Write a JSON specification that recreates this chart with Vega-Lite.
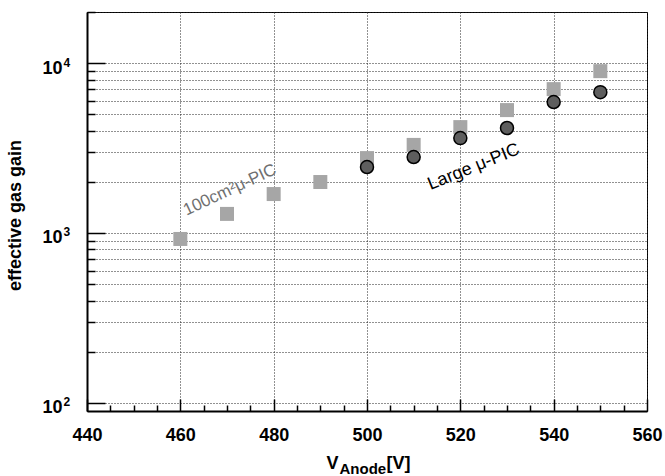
{
  "$schema": "https://vega.github.io/schema/vega-lite/v6.json",
  "width": 560,
  "height": 399,
  "autosize": "none",
  "padding": {"left": 87, "top": 12, "right": 18, "bottom": 65},
  "background": "white",
  "config": {
    "view": {"stroke": "black", "strokeWidth": 1},
    "axis": {
      "labelFont": "Liberation Sans",
      "titleFont": "Liberation Sans",
      "labelColor": "black",
      "titleColor": "black",
      "tickColor": "black",
      "domain": false,
      "grid": false,
      "labelOverlap": false,
      "labelFlush": false
    },
    "text": {"font": "Liberation Sans"}
  },
  "datasets": {
    "gain": [
      {"V": 460, "gain": 922, "detector": "100cm² μ-PIC"},
      {"V": 470, "gain": 1295, "detector": "100cm² μ-PIC"},
      {"V": 480, "gain": 1695, "detector": "100cm² μ-PIC"},
      {"V": 490, "gain": 1995, "detector": "100cm² μ-PIC"},
      {"V": 500, "gain": 2760, "detector": "100cm² μ-PIC"},
      {"V": 510, "gain": 3300, "detector": "100cm² μ-PIC"},
      {"V": 520, "gain": 4200, "detector": "100cm² μ-PIC"},
      {"V": 530, "gain": 5290, "detector": "100cm² μ-PIC"},
      {"V": 540, "gain": 7030, "detector": "100cm² μ-PIC"},
      {"V": 550, "gain": 8970, "detector": "100cm² μ-PIC"},
      {"V": 500, "gain": 2445, "detector": "Large μ-PIC"},
      {"V": 510, "gain": 2800, "detector": "Large μ-PIC"},
      {"V": 520, "gain": 3620, "detector": "Large μ-PIC"},
      {"V": 530, "gain": 4150, "detector": "Large μ-PIC"},
      {"V": 540, "gain": 5900, "detector": "Large μ-PIC"},
      {"V": 550, "gain": 6745, "detector": "Large μ-PIC"}
    ]
  },
  "layer": [
    {
      "data": {"name": "gain"},
      "transform": [{"filter": "datum.detector == '100cm² μ-PIC'"}],
      "mark": {"type": "point", "shape": "square", "filled": true, "size": 196, "color": "#a6a6a6", "opacity": 1},
      "encoding": {
        "x": {
          "field": "V", "type": "quantitative",
          "scale": {"domain": [440, 560], "nice": false, "zero": false},
          "axis": {
            "orient": "bottom",
            "values": [440, 460, 480, 500, 520, 540, 560],
            "ticks": false,
            "domain": true, "domainColor": "black", "domainWidth": 2,
            "grid": true, "gridColor": "#222222", "gridDash": [1, 2], "gridWidth": 1,
            "labelFontSize": 18, "labelFontWeight": "bold", "labelPadding": 15,
            "title": "V", "titleFontSize": 18, "titleFontWeight": "bold",
            "titleX": 239, "titleY": 57, "titleAlign": "left", "titleBaseline": "alphabetic"
          }
        },
        "y": {
          "field": "gain", "type": "quantitative",
          "scale": {"type": "log", "domain": [89.5, 20000], "nice": false},
          "axis": {
            "orient": "left",
            "values": [100, 200, 300, 400, 500, 600, 700, 800, 900, 1000, 2000, 3000, 4000, 5000, 6000, 7000, 8000, 9000, 10000, 20000],
            "labelExpr": "datum.value == 100 || datum.value == 1000 || datum.value == 10000 ? '10' : ''",
            "ticks": false,
            "domain": true, "domainColor": "black", "domainWidth": 2,
            "grid": true, "gridColor": "#222222", "gridDash": [1, 2], "gridWidth": 1,
            "labelFontSize": 18, "labelFontWeight": "bold", "labelPadding": 25,
            "labelBaseline": "middle", "labelOffset": 5,
            "title": "effective gas gain", "titleFontSize": 18, "titleFontWeight": "bold",
            "titleAngle": 270, "titleX": -72, "titleY": 203, "titleAlign": "center", "titleBaseline": "middle"
          }
        }
      }
    },
    {
      "data": {"name": "gain"},
      "transform": [{"filter": "datum.detector == 'Large μ-PIC'"}],
      "mark": {"type": "point", "shape": "circle", "filled": true, "size": 169, "fill": "#5e5e5e", "stroke": "black", "strokeWidth": 1.5, "opacity": 1},
      "encoding": {
        "x": {
          "field": "V", "type": "quantitative",
          "axis": {
            "orient": "bottom",
            "values": [440, 460, 480, 500, 520, 540, 560],
            "labels": false, "ticks": true, "tickSize": -12, "tickWidth": 1.5,
            "title": "Anode", "titleFontSize": 15, "titleFontWeight": "bold",
            "titleX": 252, "titleY": 62, "titleAlign": "left", "titleBaseline": "alphabetic"
          }
        },
        "y": {
          "field": "gain", "type": "quantitative",
          "axis": {
            "orient": "left",
            "values": [100, 1000, 10000],
            "labels": false, "ticks": true, "tickSize": -18, "tickWidth": 1.5,
            "title": null
          }
        }
      }
    },
    {
      "data": {"values": [{}]},
      "mark": {"type": "text", "fontSize": 17, "color": "#707070", "angle": 335, "align": "center", "baseline": "middle"},
      "encoding": {
        "x": {
          "datum": 470.6, "type": "quantitative",
          "axis": {
            "orient": "bottom",
            "values": [445, 450, 455, 465, 470, 475, 485, 490, 495, 505, 510, 515, 525, 530, 535, 545, 550, 555],
            "labels": false, "ticks": true, "tickSize": -6, "tickWidth": 1.5,
            "title": "[V]", "titleFontSize": 18, "titleFontWeight": "bold",
            "titleX": 299, "titleY": 57, "titleAlign": "left", "titleBaseline": "alphabetic"
          }
        },
        "y": {
          "datum": 1791, "type": "quantitative",
          "axis": {
            "orient": "left",
            "values": [200, 300, 400, 500, 600, 700, 800, 900, 2000, 3000, 4000, 5000, 6000, 7000, 8000, 9000, 20000],
            "labels": false, "ticks": true, "tickSize": -8, "tickWidth": 1.5,
            "title": null
          }
        },
        "text": {"value": "100cm²μ-PIC"}
      }
    },
    {
      "data": {"values": [{}]},
      "mark": {"type": "text", "fontSize": 18, "color": "black", "angle": 338, "align": "center", "baseline": "middle"},
      "encoding": {
        "x": {"datum": 522.9, "type": "quantitative", "axis": null},
        "y": {
          "datum": 2445, "type": "quantitative",
          "axis": {
            "orient": "left",
            "values": [100, 1000, 10000],
            "labelExpr": "datum.value == 100 ? '2' : datum.value == 1000 ? '3' : '4'",
            "ticks": false,
            "labelFontSize": 12, "labelFontWeight": "bold", "labelPadding": 24,
            "labelAlign": "left", "labelBaseline": "middle", "labelOffset": -1,
            "title": null
          }
        },
        "text": {"value": "Large μ-PIC"}
      }
    }
  ],
  "resolve": {"axis": {"x": "independent", "y": "independent"}}
}
